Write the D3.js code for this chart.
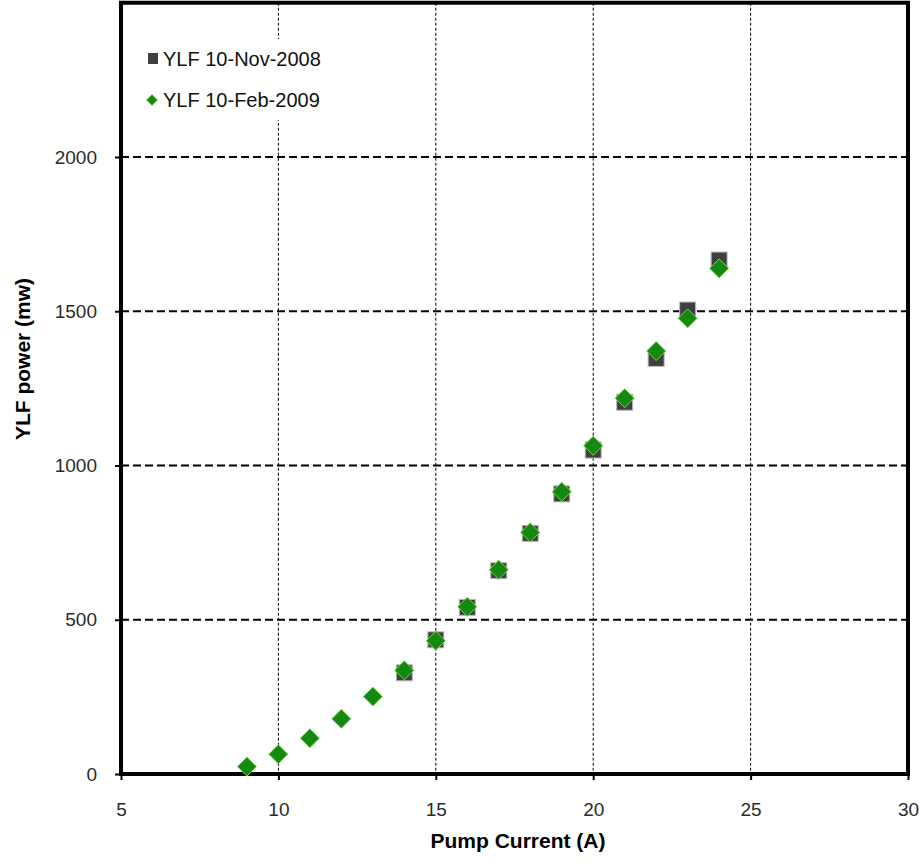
<!DOCTYPE html>
<html>
<head>
<meta charset="utf-8">
<script src="https://cdn.jsdelivr.net/npm/d3@7"></script>
<style>
  html, body { margin: 0; padding: 0; background: #fff; }
  svg { display: block; }
  text { font-family: "Liberation Sans", Arial, sans-serif; }
</style>
</head>
<body>
<svg id="chart" width="924" height="867"></svg>
<script>
// ---- data ----
const currentNov = [14, 15, 16, 17, 18, 19, 20, 21, 22, 23, 24];
const powerNov   = [328, 435, 540, 659, 780, 908, 1050, 1205, 1347, 1504, 1666];
const currentFeb = [9, 10, 11, 12, 13, 14, 15, 16, 17, 18, 19, 20, 21, 22, 23, 24];
const powerFeb   = [24, 64, 116, 179, 251, 336, 432, 542, 662, 783, 915, 1064, 1218, 1371, 1477, 1639];
const xTicks = [5, 10, 15, 20, 25, 30];
const yTicks = [0, 500, 1000, 1500, 2000];
const seriesNames = ["YLF 10-Nov-2008", "YLF 10-Feb-2009"];

(function () {
const svg = d3.select("#chart");
const pLeft = 121, pRight = 908, pBottom = 774;

const x = d3.scaleLinear().domain([5, 30]).range([pLeft, pRight]);
const y = d3.scaleLinear().domain([0, 2500]).range([pBottom, pBottom - (pBottom - 157) * 2500 / 2000]);
const pTop = y(2500);

// vertical grid
svg.append("g").selectAll("line").data(xTicks.filter(d => d > 5 && d < 30)).join("line")
  .attr("x1", d => x(d)).attr("x2", d => x(d))
  .attr("y1", pTop).attr("y2", pBottom)
  .attr("stroke", "#000").attr("stroke-width", 1).attr("stroke-dasharray", "3,2");

// horizontal grid
svg.append("g").selectAll("line").data(yTicks.filter(d => d > 0)).join("line")
  .attr("x1", pLeft).attr("x2", pRight)
  .attr("y1", d => y(d)).attr("y2", d => y(d))
  .attr("stroke", "#000").attr("stroke-width", 2).attr("stroke-dasharray", "8,4");

// legend background (hides grid)
svg.append("rect").attr("x", 138).attr("y", 39).attr("width", 205).attr("height", 81).attr("fill", "#fff");

// frame
svg.append("rect").attr("x", pLeft).attr("y", pTop).attr("width", pRight - pLeft).attr("height", pBottom - pTop)
  .attr("fill", "none").attr("stroke", "#000").attr("stroke-width", 4);

// axes
const xAxis = svg.append("g").attr("transform", `translate(0,${pBottom})`)
  .call(d3.axisBottom(x).tickValues(xTicks).tickSize(6).tickPadding(23).tickFormat(d3.format("d")));
const yAxis = svg.append("g").attr("transform", `translate(${pLeft},0)`)
  .call(d3.axisLeft(y).tickValues(yTicks).tickSize(6).tickPadding(18).tickFormat(d3.format("d")));
[xAxis, yAxis].forEach(a => {
  a.select(".domain").remove();
  a.selectAll(".tick line").attr("stroke", "#000").attr("stroke-width", 2);
  a.selectAll(".tick text").attr("font-size", 19).attr("fill", "#2a2a2a")
    .attr("font-family", "'Liberation Sans', Arial, sans-serif");
});

// axis titles
svg.append("text").attr("x", 518).attr("y", 848).attr("text-anchor", "middle")
  .attr("font-size", 21).attr("font-weight", "bold").text("Pump Current (A)");
svg.append("text").attr("transform", `translate(30,359) rotate(-90)`).attr("text-anchor", "middle")
  .attr("font-size", 21).attr("font-weight", "bold").text("YLF power (mw)");

// squares
const sq = 16;
svg.append("g").selectAll("rect").data(currentNov.map((c, i) => [c, powerNov[i]])).join("rect")
  .attr("x", d => x(d[0]) - sq / 2).attr("y", d => y(d[1]) - sq / 2)
  .attr("width", sq).attr("height", sq)
  .attr("fill", "#3f3f3f").attr("stroke", "#bbb").attr("stroke-width", 1);

// diamonds
const dm = 9.5;
const diamond = `M0,${-dm}L${dm},0L0,${dm}L${-dm},0Z`;
svg.append("g").selectAll("path").data(currentFeb.map((c, i) => [c, powerFeb[i]])).join("path")
  .attr("transform", d => `translate(${x(d[0])},${y(d[1])})`)
  .attr("d", diamond)
  .attr("fill", "#128a12").attr("stroke", "#7fd04a").attr("stroke-width", 1);

// legend
const lg = svg.append("g");
lg.append("rect").attr("x", 148).attr("y", 53).attr("width", 10).attr("height", 11).attr("fill", "#3f3f3f");
lg.append("text").attr("x", 163).attr("y", 66).attr("font-size", 20).attr("fill", "#111").text(seriesNames[0]);
const ld = 5.5;
lg.append("path").attr("transform", "translate(152,100)")
  .attr("d", `M0,${-ld}L${ld},0L0,${ld}L${-ld},0Z`).attr("fill", "#128a12").attr("stroke", "#7fd04a").attr("stroke-width", 0.8);
lg.append("text").attr("x", 163).attr("y", 107).attr("font-size", 20).attr("fill", "#111").text(seriesNames[1]);
})();
</script>
</body>
</html>
